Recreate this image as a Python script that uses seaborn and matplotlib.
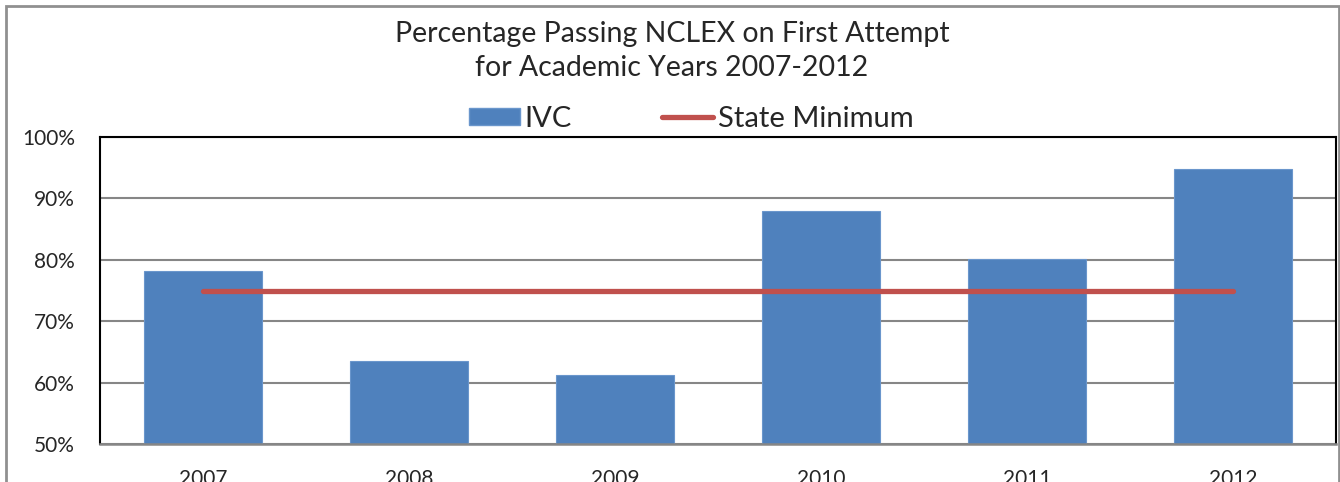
import seaborn as sns
import matplotlib.pyplot as plt
import numpy as np
import pandas as pd
from matplotlib.patches import Rectangle, Patch
from matplotlib.lines import Line2D

years = ["2007", "2008", "2009", "2010", "2011", "2012"]
ivc = [78.2, 63.5, 61.2, 87.9, 80.1, 94.8]
state_min = [75, 75, 75, 75, 75, 75]
y_ticks = [50, 60, 70, 80, 90, 100]

sns.set_style("white")
plt.rcParams['font.family'] = ['Lato', 'DejaVu Sans']

df = pd.DataFrame({"year": years, "ivc": ivc, "state": state_min})

W, H = 1340, 482
fig = plt.figure(figsize=(W / 100, H / 100), dpi=100)
ax = fig.add_axes([100 / W, (H - 444) / H, 1236 / W, 307 / H])

# bars
sns.barplot(data=df, x="year", y="ivc", color="#4F81BD", saturation=1,
            width=0.57, edgecolor="#6A96CC", linewidth=0.8, ax=ax, zorder=2)
# state minimum line
sns.lineplot(x=np.arange(len(years)), y=df["state"], color="#C0504D",
             linewidth=3.8, solid_capstyle="round", ax=ax, zorder=3)

ax.set_xlim(-0.5, len(years) - 0.5)
ax.set_ylim(50, 100)
ax.set_yticks(y_ticks)
ax.set_yticklabels([f"{t}%" for t in y_ticks])
ax.set_xlabel("")
ax.set_ylabel("")
ax.yaxis.grid(True, color="#868686", linewidth=1.5, zorder=0)
ax.set_axisbelow(True)
ax.tick_params(axis="y", length=0, pad=18, labelsize=15)
ax.tick_params(axis="x", length=0, pad=18, labelsize=15)
for s in ["top", "left", "right"]:
    ax.spines[s].set_color("black")
    ax.spines[s].set_linewidth(1.5)
ax.spines["bottom"].set_color("#868686")
ax.spines["bottom"].set_linewidth(1.8)

# title and legend
fig.text(672 / W, 1 - 51 / H, "Percentage Passing NCLEX on First Attempt\nfor Academic Years 2007-2012",
         ha="center", va="center", fontsize=20.5, linespacing=1.35)
handles = [Patch(facecolor="#4F81BD", edgecolor="#6A96CC", label="IVC"),
           Line2D([0], [0], color="#C0504D", lw=3.8, solid_capstyle="round", label="State Minimum")]
fig.legend(handles=handles, loc="center", bbox_to_anchor=(691 / W, 1 - 119 / H), ncol=2,
           frameon=False, fontsize=21, handlelength=1.75, handleheight=0.55,
           handletextpad=0.15, columnspacing=3.1, borderaxespad=0)

# outer chart frame
fig.add_artist(Rectangle((6 / W, -0.2), (1339 - 6) / W, (H - 6) / H + 0.2,
                         transform=fig.transFigure, fill=False,
                         edgecolor="#909090", linewidth=2))

fig.savefig("out.png", dpi=100)
